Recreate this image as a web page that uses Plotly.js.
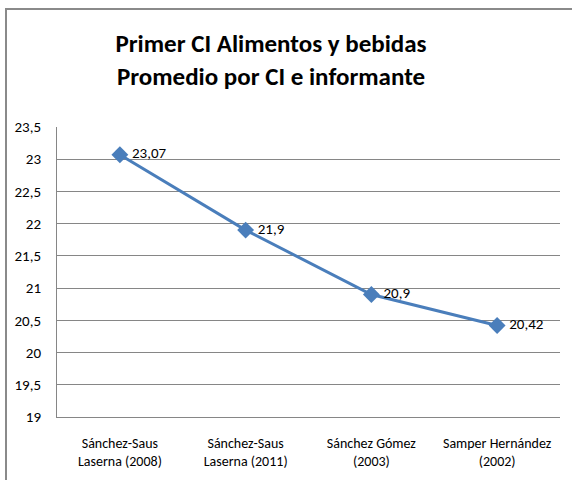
<!DOCTYPE html>
<html>
<head>
<meta charset="utf-8">
<script src="https://cdn.plot.ly/plotly-3.0.1.min.js"></script>
<style>
html,body{margin:0;padding:0;background:#fff;}
#wrap{position:relative;width:572px;height:480px;overflow:hidden;}
#chart{position:absolute;left:0;top:0;width:572px;height:480px;}
#frame{position:absolute;left:5px;top:8px;width:700px;height:700px;border-left:2px solid #8a8a8a;border-top:2px solid #8a8a8a;pointer-events:none;}
</style>
</head>
<body>
<div id="wrap"><div id="chart"></div><div id="frame"></div></div>
<script>
const categories = ['Sánchez-Saus<br>Laserna (2008)', 'Sánchez-Saus<br>Laserna (2011)', 'Sánchez Gómez<br>(2003)', 'Samper Hernández<br>(2002)'];
const values = [23.07, 21.9, 20.9, 20.42];
const yTicks = [19, 19.5, 20, 20.5, 21, 21.5, 22, 22.5, 23, 23.5];

const FONT = 'Carlito, "Open Sans Condensed", "Roboto Condensed", sans-serif';
const labels = values.map(v => '\u2009' + String(v).replace('.', ','));

const trace = {
  x: categories,
  y: values,
  type: 'scatter',
  mode: 'lines+markers+text',
  text: labels,
  textposition: 'middle right',
  textfont: {family: FONT, size: 15, color: '#000'},
  line: {color: '#4a7ebb', width: 3},
  marker: {symbol: 'diamond', size: 13, color: '#4a7ebb'},
  cliponaxis: false,
  hoverinfo: 'none'
};

const layout = {
  width: 572, height: 480,
  margin: {l: 57, r: 12, t: 127, b: 63},
  paper_bgcolor: '#fff', plot_bgcolor: '#fff',
  separators: ',.',
  showlegend: false,
  title: {
    text: '<b>Primer CI Alimentos y bebidas<br>Promedio por CI e informante</b>',
    font: {family: FONT, size: 25, color: '#000'},
    x: 271/572, xanchor: 'center',
    y: 1 - 52/480, yanchor: 'top', yref: 'container'
  },
  xaxis: {
    type: 'category',
    range: [-0.5, 3.5],
    showgrid: false,
    showline: true, linecolor: '#868686', linewidth: 1,
    ticks: 'outside', ticklen: 13, tickcolor: 'rgba(0,0,0,0)',
    tickfont: {family: FONT, size: 14, color: '#000'},
    fixedrange: true
  },
  yaxis: {
    range: [19, 23.5],
    tickvals: yTicks,
    showgrid: true, gridcolor: '#868686', gridwidth: 1,
    zeroline: false,
    showline: true, linecolor: '#868686', linewidth: 1,
    ticks: 'outside', ticklen: 12, tickcolor: 'rgba(0,0,0,0)',
    tickfont: {family: FONT, size: 15, color: '#000'},
    fixedrange: true
  }
};

Plotly.newPlot('chart', [trace], layout, {displayModeBar: false, staticPlot: true});
</script>
</body>
</html>
